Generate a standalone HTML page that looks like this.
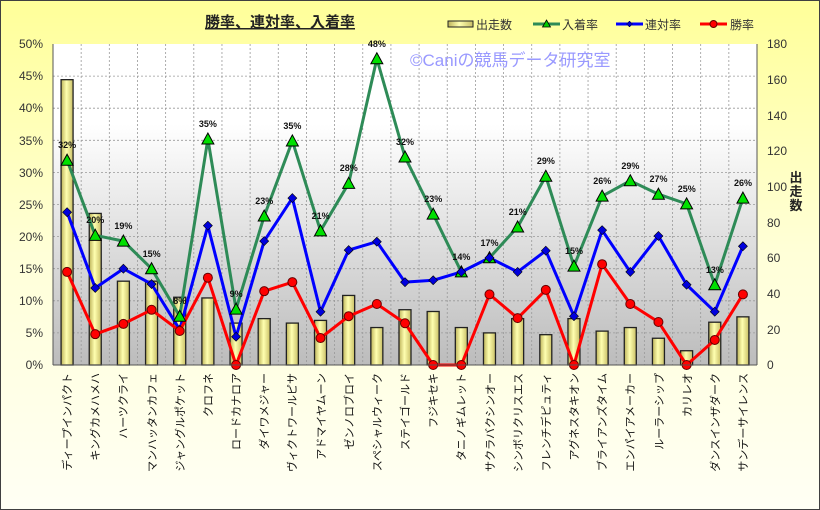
<!DOCTYPE html>
<html><head><meta charset="utf-8"><style>
html,body{margin:0;padding:0;background:#fff}
svg{display:block}
text{font-family:"Liberation Sans","Noto Sans CJK JP",sans-serif}
</style></head><body>
<svg id="c" width="820" height="510" xmlns="http://www.w3.org/2000/svg">
<defs>
<linearGradient id="bg" x1="0" y1="0" x2="0" y2="1"><stop offset="0" stop-color="#ffff99"/><stop offset="0.5" stop-color="#ffffd8"/><stop offset="1" stop-color="#fffff4"/></linearGradient>
<linearGradient id="pa" x1="0" y1="0" x2="0" y2="1"><stop offset="0" stop-color="#ffffff"/><stop offset="0.25" stop-color="#ffffff"/><stop offset="1" stop-color="#bcbcbc"/></linearGradient>
<linearGradient id="bar" x1="0" y1="0" x2="1" y2="0"><stop offset="0" stop-color="#bdb35a"/><stop offset="0.45" stop-color="#ffffb0"/><stop offset="1" stop-color="#c9bf66"/></linearGradient>
</defs>
<rect x="0.5" y="0.5" width="819" height="509" fill="url(#bg)" stroke="#404040"/>
<rect x="53" y="44" width="704" height="321" fill="url(#pa)"/>
<g id="grid" stroke="#999" stroke-width="0.8" stroke-dasharray="2,2"></g>
<g id="bars"></g>
<text x="410" y="66" font-size="17" fill="#9999ff">©Caniの競馬データ研究室</text>
<g id="lines"></g>
<line x1="53" y1="44" x2="53" y2="365" stroke="#555"/>
<line x1="757" y1="44" x2="757" y2="365" stroke="#555"/>
<line x1="53" y1="365" x2="757" y2="365" stroke="#555"/>
<g font-size="12" fill="#333" text-anchor="end">
<text x="43" y="48">50%</text><text x="43" y="80">45%</text><text x="43" y="112">40%</text><text x="43" y="145">35%</text><text x="43" y="177">30%</text><text x="43" y="209">25%</text><text x="43" y="241">20%</text><text x="43" y="273">15%</text><text x="43" y="305">10%</text><text x="43" y="337">5%</text><text x="43" y="369">0%</text>
</g>
<g font-size="12" fill="#333">
<text x="767" y="48">180</text><text x="767" y="84">160</text><text x="767" y="120">140</text><text x="767" y="155">120</text><text x="767" y="191">100</text><text x="767" y="227">80</text><text x="767" y="262">60</text><text x="767" y="298">40</text><text x="767" y="334">20</text><text x="767" y="369">0</text>
</g>
<g font-size="13" font-weight="bold" fill="#222" text-anchor="middle">
<text x="796" y="182">出</text><text x="796" y="196">走</text><text x="796" y="210">数</text>
</g>
<text x="280" y="27" font-size="15" font-weight="bold" text-anchor="middle" fill="#222" text-decoration="underline">勝率、連対率、入着率</text>
<g font-size="12" fill="#333">
<rect x="448" y="21" width="25" height="6" fill="url(#bar)" stroke="#222"/><text x="476" y="29">出走数</text>
<line x1="533" y1="24" x2="560" y2="24" stroke="#2e8b57" stroke-width="3"/><polygon points="546.5,20 550.5,27 542.5,27" fill="#0c0" stroke="#000" stroke-width="0.8"/><text x="562" y="29">入着率</text>
<line x1="616" y1="24" x2="643" y2="24" stroke="#00f" stroke-width="3"/><polygon points="629.5,21 632.5,24 629.5,27 626.5,24" fill="#00c" stroke="#000" stroke-width="0.5"/><text x="645" y="29">連対率</text>
<line x1="700" y1="24" x2="727" y2="24" stroke="#f00" stroke-width="3"/><circle cx="713.5" cy="24" r="3.5" fill="#f00" stroke="#600"/><text x="730" y="29">勝率</text>
</g>
<g font-size="9" font-weight="bold" fill="#111" text-anchor="middle">
<text x="67.1" y="148">32%</text><text x="95.2" y="223">20%</text><text x="123.4" y="229">19%</text><text x="151.6" y="257">15%</text><text x="179.7" y="304">8%</text><text x="207.9" y="127">35%</text><text x="236.1" y="297">9%</text><text x="264.2" y="204">23%</text><text x="292.4" y="129">35%</text><text x="320.6" y="219">21%</text><text x="348.7" y="171">28%</text><text x="376.9" y="47">48%</text><text x="405.0" y="145">32%</text><text x="433.2" y="202">23%</text><text x="461.4" y="260">14%</text><text x="489.5" y="246">17%</text><text x="517.7" y="215">21%</text><text x="545.9" y="164">29%</text><text x="574.0" y="254">15%</text><text x="602.2" y="184">26%</text><text x="630.4" y="169">29%</text><text x="658.5" y="182">27%</text><text x="686.7" y="192">25%</text><text x="714.9" y="273">13%</text><text x="743.0" y="186">26%</text>
</g>
<g font-size="11" fill="#111" text-anchor="end">
<text transform="translate(71,373) rotate(-90)">ディープインパクト</text>
<text transform="translate(99,373) rotate(-90)">キングカメハメハ</text>
<text transform="translate(127,373) rotate(-90)">ハーツクライ</text>
<text transform="translate(156,373) rotate(-90)">マンハッタンカフェ</text>
<text transform="translate(184,373) rotate(-90)">ジャングルポケット</text>
<text transform="translate(212,373) rotate(-90)">クロフネ</text>
<text transform="translate(240,373) rotate(-90)">ロードカナロア</text>
<text transform="translate(268,373) rotate(-90)">ダイワメジャー</text>
<text transform="translate(296,373) rotate(-90)">ヴィクトワールピサ</text>
<text transform="translate(325,373) rotate(-90)">アドマイヤムーン</text>
<text transform="translate(353,373) rotate(-90)">ゼンノロブロイ</text>
<text transform="translate(381,373) rotate(-90)">スペシャルウィーク</text>
<text transform="translate(409,373) rotate(-90)">ステイゴールド</text>
<text transform="translate(437,373) rotate(-90)">フジキセキ</text>
<text transform="translate(465,373) rotate(-90)">タニノギムレット</text>
<text transform="translate(494,373) rotate(-90)">サクラバクシンオー</text>
<text transform="translate(522,373) rotate(-90)">シンボリクリスエス</text>
<text transform="translate(550,373) rotate(-90)">フレンチデピュティ</text>
<text transform="translate(578,373) rotate(-90)">アグネスタキオン</text>
<text transform="translate(606,373) rotate(-90)">ブライアンズタイム</text>
<text transform="translate(634,373) rotate(-90)">エンパイアメーカー</text>
<text transform="translate(663,373) rotate(-90)">ルーラーシップ</text>
<text transform="translate(691,373) rotate(-90)">カリレオ</text>
<text transform="translate(719,373) rotate(-90)">ダンスインザダーク</text>
<text transform="translate(747,373) rotate(-90)">サンデーサイレンス</text>
</g>
</svg>
<script>
(function(){
var NS="http://www.w3.org/2000/svg";
function el(p,t,a){var e=document.createElementNS(NS,t);for(var k in a)e.setAttribute(k,a[k]);p.appendChild(e);return e;}
var W=28.16,X0=53;
function cx(i){return X0+W*(i+0.5);}
var g=document.getElementById('grid');
for(var i=1;i<25;i++){var x=X0+W*i;el(g,'line',{x1:x,y1:44,x2:x,y2:365});}
for(var j=1;j<10;j++){var y=365-j*32.1;el(g,'line',{x1:53,y1:y,x2:757,y2:y});}
var runs=[160,85,47,47,38,37.6,23.5,26,23.5,25,39,21,31,30,21,18,26,17,26,19,21,15,8,24,27];
var b=document.getElementById('bars');
runs.forEach(function(v,i){var h=v*321/180;el(b,'rect',{x:cx(i)-6,y:365-h,width:12,height:h,fill:'url(#bar)',stroke:'#222','stroke-width':1.3});});
var green=[31.9,20.2,19.3,15,7.6,35.2,8.7,23.2,34.9,20.9,28.3,47.7,32.4,23.5,14.5,16.7,21.5,29.4,15.4,26.3,28.7,26.6,25.1,12.5,26];
var blue=[23.8,12,15,12.6,5.5,21.7,4.4,19.3,26,8.3,17.9,19.2,12.9,13.2,14.5,16.7,14.5,17.8,7.6,21,14.5,20.1,12.5,8.3,18.5];
var red=[14.5,4.8,6.4,8.6,5.3,13.6,0,11.5,12.9,4.2,7.6,9.5,6.5,0,0,11,7.3,11.7,0,15.7,9.5,6.7,0,3.9,11];
var L=document.getElementById('lines');
function Y(v){return 365-v*6.42;}
function line(d,c){el(L,'polyline',{points:d.map(function(v,i){return cx(i)+','+Y(v);}).join(' '),fill:'none',stroke:c,'stroke-width':3,'stroke-linejoin':'round'});}
line(green,'#2e8b57');line(blue,'#0000ff');line(red,'#ff0000');
green.forEach(function(v,i){var x=cx(i),y=Y(v);el(L,'polygon',{points:x+','+(y-6)+' '+(x+6)+','+(y+5)+' '+(x-6)+','+(y+5),fill:'#00e000',stroke:'#000','stroke-width':1});});
blue.forEach(function(v,i){var x=cx(i),y=Y(v);el(L,'polygon',{points:x+','+(y-4.5)+' '+(x+4.5)+','+y+' '+x+','+(y+4.5)+' '+(x-4.5)+','+y,fill:'#0000dd',stroke:'#000','stroke-width':0.6});});
red.forEach(function(v,i){el(L,'circle',{cx:cx(i),cy:Y(v),r:4.5,fill:'#ff0000',stroke:'#600','stroke-width':1});});
})();
</script>
</body></html>
